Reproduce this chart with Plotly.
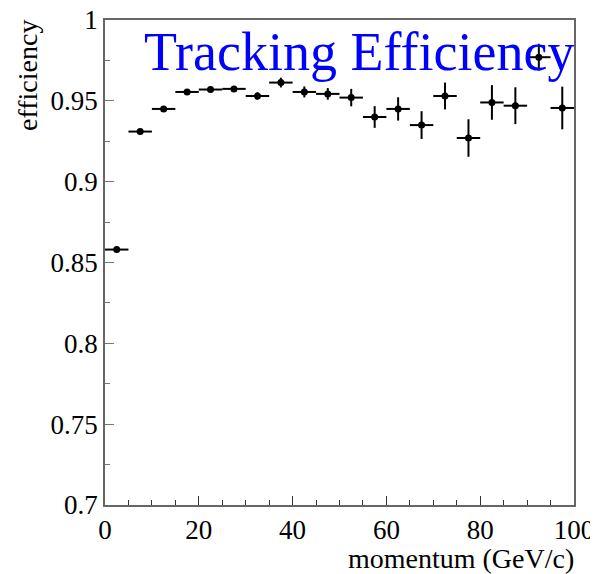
import plotly.graph_objects as go

momentum = [2.5, 7.5, 12.5, 17.5, 22.5, 27.5, 32.5, 37.5, 42.5, 47.5,
            52.5, 57.5, 62.5, 67.5, 72.5, 77.5, 82.5, 87.5, 92.5, 97.5]
bin_half_width = [2.5] * 20
efficiency = [0.858, 0.931, 0.945, 0.9555, 0.957, 0.9574, 0.953, 0.9613, 0.9555, 0.9543,
              0.952, 0.940, 0.945, 0.935, 0.953, 0.927, 0.949, 0.947, 0.977, 0.9456]
eff_error = [0.0008, 0.0009, 0.001, 0.0012, 0.0014, 0.0016, 0.0023, 0.003, 0.0034, 0.0036,
             0.0054, 0.0067, 0.0072, 0.0086, 0.0083, 0.0116, 0.0107, 0.0114, 0.0083, 0.0132]

y_ticks = [0.7, 0.75, 0.8, 0.85, 0.9, 0.95, 1.0]
y_tick_text = ["0.7", "0.75", "0.8", "0.85", "0.9", "0.95", "1"]
x_ticks = [0, 20, 40, 60, 80, 100]

serif = "Liberation Serif"

fig = go.Figure()
fig.add_trace(go.Scatter(
    x=momentum, y=efficiency, mode="markers",
    marker=dict(color="black", size=7, symbol="circle"),
    error_x=dict(type="data", array=bin_half_width, color="black", thickness=2, width=0),
    error_y=dict(type="data", array=eff_error, color="black", thickness=2, width=0),
    showlegend=False,
))

fig.update_layout(
    width=590, height=566,
    margin=dict(l=97, r=24, t=12, b=69, autoexpand=False),
    paper_bgcolor="white", plot_bgcolor="white",
    font=dict(family=serif, color="black", size=27),
    xaxis=dict(range=[-0.001, 100.001], tickvals=x_ticks, ticks="inside", ticklen=9,
               tickcolor="#333333", showgrid=False, zeroline=False, automargin=False,
               showline=True, linecolor="#666666", linewidth=1.5, mirror=True,
               minor=dict(dtick=5, ticks="inside", ticklen=5, tickcolor="#333333"),
               tickfont=dict(family=serif, size=27), ticklabeloverflow="allow"),
    yaxis=dict(range=[0.69999, 1.00001], tickvals=y_ticks, ticktext=y_tick_text,
               ticks="inside", ticklen=9, tickcolor="#777777", showgrid=False,
               zeroline=False, showline=True, linecolor="#666666", linewidth=1.5,
               mirror=True, automargin=False, ticklabeloverflow="allow",
               minor=dict(dtick=0.025, ticks="inside", ticklen=5, tickcolor="#777777"),
               tickfont=dict(family=serif, size=27)),
    annotations=[
        dict(text="Tracking Efficiency", x=1.0, y=1.0, xref="paper", yref="paper",
             xanchor="right", yanchor="top", xshift=2, yshift=0, showarrow=False,
             font=dict(family=serif, color="#0000ff", size=54)),
        dict(text="efficiency", x=0, y=1.0, xref="paper", yref="paper",
             xanchor="right", yanchor="top", textangle=-90, xshift=-60, yshift=2,
             showarrow=False, font=dict(family=serif, size=28)),
        dict(text="momentum (GeV/c)", x=1.0, y=0, xref="paper", yref="paper",
             xanchor="right", yanchor="top", xshift=2, yshift=-36, showarrow=False,
             font=dict(family=serif, size=28)),
    ],
)

fig.write_html("out.html")
